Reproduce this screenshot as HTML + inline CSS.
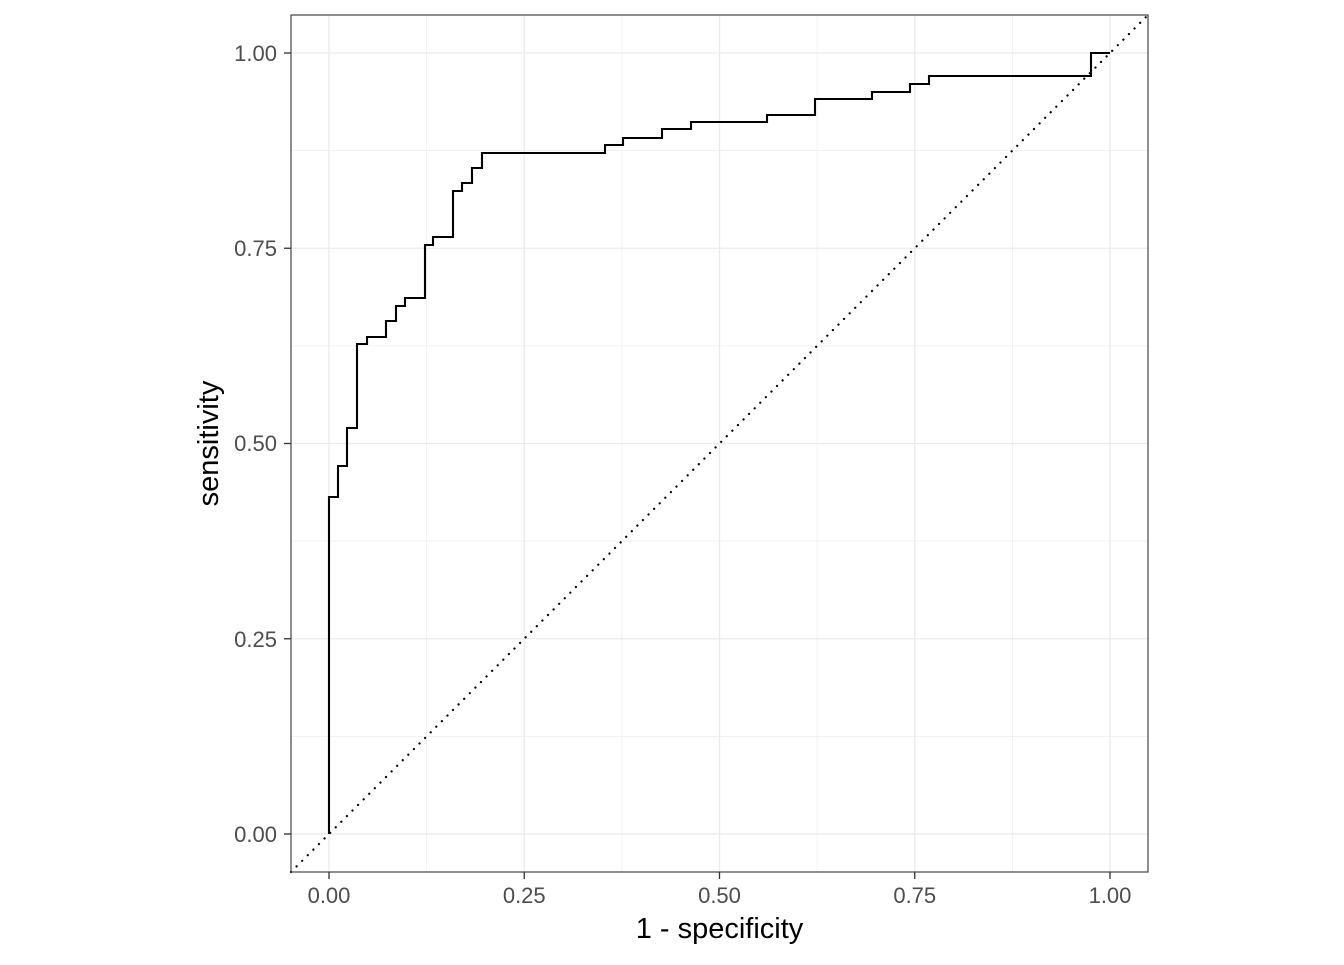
<!DOCTYPE html>
<html><head><style>body{margin:0;background:#fff}</style></head><body>
<svg width="1344" height="960" xmlns="http://www.w3.org/2000/svg" font-family="Liberation Sans, sans-serif">
<rect x="0" y="0" width="1344" height="960" fill="#fff"/>
<g stroke="#ebebeb" stroke-width="0.6">
<line x1="291" x2="1148" y1="736.4" y2="736.4"/><line x1="291" x2="1148" y1="541.1" y2="541.1"/><line x1="291" x2="1148" y1="345.9" y2="345.9"/><line x1="291" x2="1148" y1="150.6" y2="150.6"/>
<line y1="15" y2="872" x1="426.6" x2="426.6"/><line y1="15" y2="872" x1="621.9" x2="621.9"/><line y1="15" y2="872" x1="817.1" x2="817.1"/><line y1="15" y2="872" x1="1012.4" x2="1012.4"/>
</g>
<g stroke="#ebebeb" stroke-width="1.3">
<line x1="291" x2="1148" y1="834" y2="834"/><line x1="291" x2="1148" y1="638.75" y2="638.75"/><line x1="291" x2="1148" y1="443.5" y2="443.5"/><line x1="291" x2="1148" y1="248.25" y2="248.25"/><line x1="291" x2="1148" y1="53" y2="53"/>
<line y1="15" y2="872" x1="329" x2="329"/><line y1="15" y2="872" x1="524.25" x2="524.25"/><line y1="15" y2="872" x1="719.5" x2="719.5"/><line y1="15" y2="872" x1="914.75" x2="914.75"/><line y1="15" y2="872" x1="1110" x2="1110"/>
</g>
<line x1="291" y1="872" x2="1148" y2="15" stroke="#000" stroke-width="2.2" stroke-dasharray="0.1 7.8" stroke-linecap="round"/>
<path d="M329 834V497H338V466H347V428H357V344H367V337H386V321H396V306H405V298H425V245H433V237H453V191H462V183H472V168H482V153H605V145H623V138H662V129H691V122H767V115H815V99H872V92H910V84H929V76H1091V53H1110" fill="none" stroke="#000" stroke-width="2.1"/>
<rect x="291" y="15" width="857" height="857" fill="none" stroke="#333" stroke-width="1.1"/>
<g stroke="#333" stroke-width="1.3">
<line x1="284" x2="291" y1="834" y2="834"/><line x1="284" x2="291" y1="638.75" y2="638.75"/><line x1="284" x2="291" y1="443.5" y2="443.5"/><line x1="284" x2="291" y1="248.25" y2="248.25"/><line x1="284" x2="291" y1="53" y2="53"/>
<line y1="872" y2="879" x1="329" x2="329"/><line y1="872" y2="879" x1="524.25" x2="524.25"/><line y1="872" y2="879" x1="719.5" x2="719.5"/><line y1="872" y2="879" x1="914.75" x2="914.75"/><line y1="872" y2="879" x1="1110" x2="1110"/>
</g>
<g fill="#4d4d4d" font-size="22" text-anchor="end">
<text x="277" y="842">0.00</text><text x="277" y="647">0.25</text><text x="277" y="451">0.50</text><text x="277" y="256">0.75</text><text x="277" y="61">1.00</text>
</g>
<g fill="#4d4d4d" font-size="22" text-anchor="middle">
<text x="329" y="903">0.00</text><text x="524.25" y="903">0.25</text><text x="719.5" y="903">0.50</text><text x="914.75" y="903">0.75</text><text x="1110" y="903">1.00</text>
</g>
<text x="719.5" y="938" font-size="29" text-anchor="middle" fill="#000">1 - specificity</text>
<text transform="translate(218,443.5) rotate(-90)" font-size="29" text-anchor="middle" fill="#000">sensitivity</text>
</svg>
</body></html>
